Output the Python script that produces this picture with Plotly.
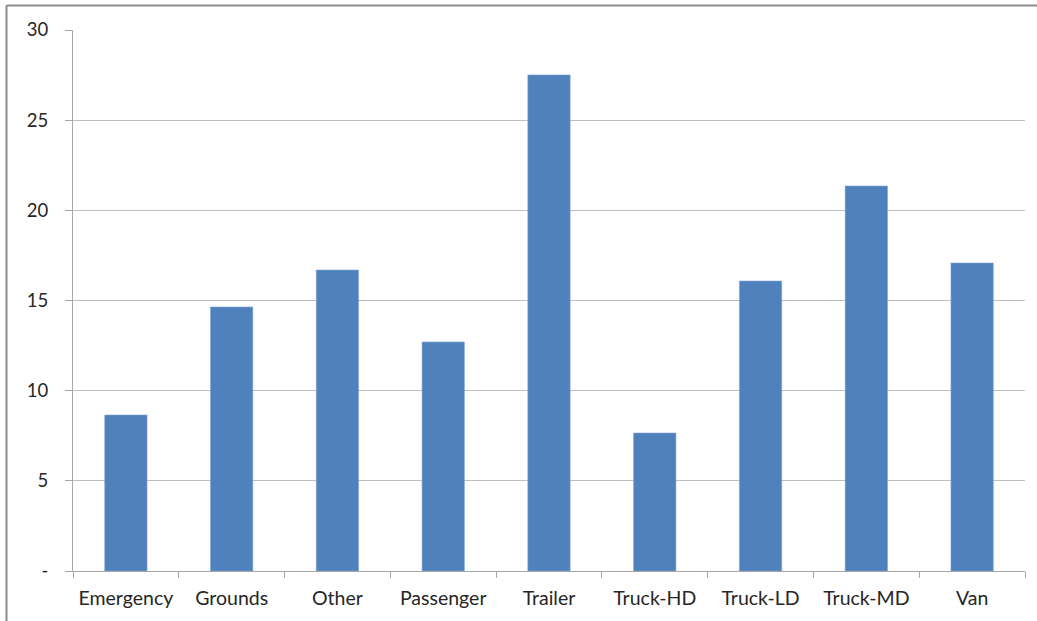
import plotly.graph_objects as go

categories = ["Emergency", "Grounds", "Other", "Passenger", "Trailer",
              "Truck-HD", "Truck-LD", "Truck-MD", "Van"]
values = [8.65, 14.64, 16.69, 12.70, 27.51, 7.65, 16.08, 21.35, 17.08]
y_tickvals = [0, 5, 10, 15, 20, 25, 30]
y_ticktext = ["-", "5", "10", "15", "20", "25", "30"]

W, H = 1037, 621
ML, MR, MT, MB = 73, 12, 30, 50
pw, ph = W - ML - MR, H - MT - MB

family = "Lato, Open Sans, sans-serif"
xfont = dict(family=family, size=19.5, color="#262626")
yfont = dict(family=family, size=18.5, color="#262626")

fig = go.Figure(go.Bar(
    x=categories, y=values,
    marker=dict(color="#4F81BD", line=dict(color="#7FA3D3", width=0.6)),
))

fig.update_layout(
    width=W, height=H,
    margin=dict(l=ML, r=MR, t=MT, b=MB),
    paper_bgcolor="white", plot_bgcolor="white",
    bargap=0.6, showlegend=False,
    xaxis=dict(
        type="category", tickson="boundaries", ticks="outside", ticklen=6,
        tickcolor="#a6a6a6", showline=True, linecolor="#a6a6a6", linewidth=1,
        showgrid=False, tickfont=xfont, ticklabelstandoff=10,
    ),
    yaxis=dict(
        range=[0, 30], tickvals=y_tickvals, ticktext=y_ticktext,
        ticks="outside", ticklen=7, tickcolor="#a6a6a6",
        showline=True, linecolor="#a6a6a6", linewidth=1,
        showgrid=True, gridcolor="#bfbfbf", gridwidth=1,
        zeroline=False, tickfont=yfont, ticklabelstandoff=13,
    ),
)

# outer frame along the left and top edges of the chart
fx = (6.5 - ML) / pw
fy = (H - MB - 5.5) / ph
fig.add_shape(type="line", xref="paper", yref="paper",
              x0=fx, x1=fx, y0=fy, y1=(H - MB - H) / ph,
              line=dict(color="#8c8c8c", width=2))
fig.add_shape(type="line", xref="paper", yref="paper",
              x0=fx, x1=(W - ML) / pw, y0=fy, y1=fy,
              line=dict(color="#8c8c8c", width=2))

fig.write_html("out.html")
